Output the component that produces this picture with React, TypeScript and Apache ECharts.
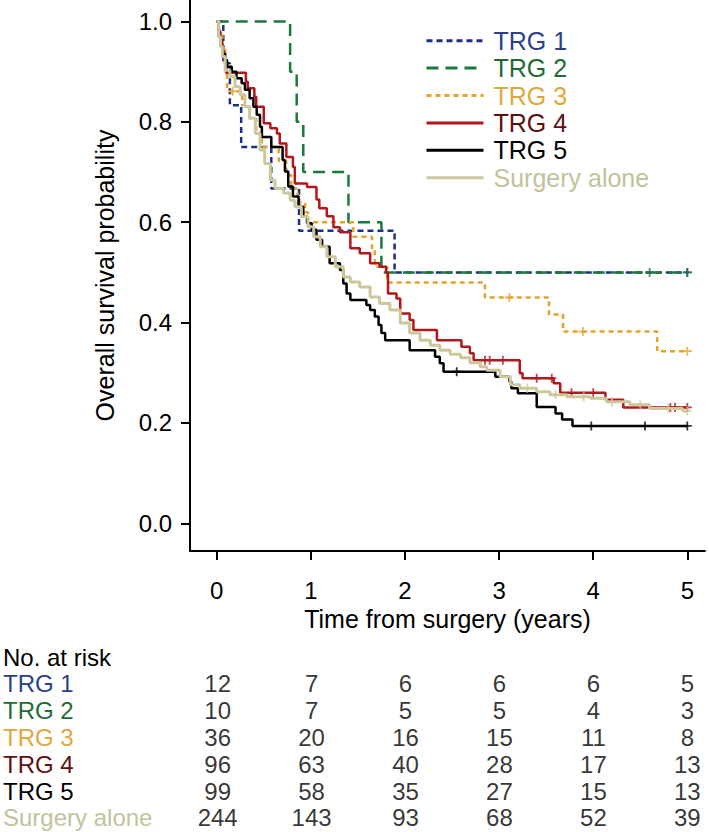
import React, { useEffect, useRef } from 'react';
import * as echarts from 'echarts';

const FONT = 'Liberation Sans, Arial, Helvetica, sans-serif';

const groups = ['TRG 1', 'TRG 2', 'TRG 3', 'TRG 4', 'TRG 5', 'Surgery alone'];
const lineColors = ['#1c2f86', '#1a7a3c', '#e2a52a', '#b3171b', '#000000', '#cdc79c'];
const textColors = ['#2b3f8c', '#1f6b35', '#e0a83a', '#5c1010', '#000000', '#c3c29a'];
const lineTypes: any[] = [[6, 4], [12, 7], [5, 4], 'solid', 'solid', 'solid'];
const lineWidths = [2.5, 2.5, 2.5, 2.5, 2.5, 3];

// Kaplan-Meier steps (time in years, survival probability)
const trg1Time = [0, 0.07, 0.14, 0.26, 0.58, 0.875, 1.89, 5];
const trg1Surv = [1, 0.917, 0.833, 0.75, 0.667, 0.583, 0.5, 0.5];

const trg2Time = [0, 0.78, 0.85, 0.92, 1.4, 1.75, 5];
const trg2Surv = [1, 0.9, 0.8, 0.7, 0.6, 0.5, 0.5];

const trg3Time = [0, 0.03, 0.06, 0.09, 0.11, 0.27, 0.35, 0.42, 0.48, 0.66, 0.74, 0.79, 0.86, 0.94, 0.97, 1.45, 1.65, 1.68, 1.81, 2.85, 3.53, 3.68, 4.68, 5];
const trg3Surv = [1, 0.972, 0.944, 0.917, 0.861, 0.833, 0.806, 0.778, 0.75, 0.722, 0.694, 0.667, 0.639, 0.62, 0.6, 0.571, 0.545, 0.511, 0.48, 0.45, 0.416, 0.382, 0.343, 0.343];

const trg4Time = [0, 0.02, 0.04, 0.06, 0.08, 0.1, 0.31, 0.33, 0.4, 0.42, 0.5, 0.57, 0.64, 0.67, 0.74, 0.81, 0.83, 0.96, 1.06, 1.09, 1.17, 1.24, 1.31, 1.42, 1.52, 1.63, 1.73, 1.8, 1.82, 1.91, 1.95, 2.05, 2.09, 2.34, 2.6, 2.69, 2.73, 3.22, 3.25, 3.58, 3.65, 4.13, 4.32, 5];
const trg4Surv = [1, 0.98, 0.96, 0.94, 0.92, 0.898, 0.88, 0.867, 0.85, 0.83, 0.797, 0.787, 0.777, 0.757, 0.73, 0.71, 0.677, 0.67, 0.645, 0.628, 0.612, 0.59, 0.58, 0.548, 0.538, 0.518, 0.511, 0.5, 0.458, 0.448, 0.418, 0.405, 0.385, 0.365, 0.352, 0.339, 0.325, 0.299, 0.289, 0.279, 0.26, 0.246, 0.231, 0.231];

const trg5Time = [0, 0.02, 0.04, 0.06, 0.09, 0.11, 0.16, 0.21, 0.265, 0.3, 0.35, 0.39, 0.425, 0.46, 0.48, 0.58, 0.7, 0.725, 0.76, 0.81, 0.87, 0.92, 0.96, 1.01, 1.06, 1.12, 1.2, 1.31, 1.345, 1.38, 1.42, 1.59, 1.63, 1.68, 1.72, 1.75, 1.79, 2.05, 2.32, 2.37, 2.41, 2.96, 3.11, 3.13, 3.2, 3.4, 3.6, 3.67, 3.78, 5];
const trg5Surv = [1, 0.97, 0.95, 0.935, 0.923, 0.91, 0.9, 0.887, 0.877, 0.864, 0.847, 0.83, 0.814, 0.79, 0.77, 0.75, 0.724, 0.701, 0.671, 0.651, 0.631, 0.611, 0.598, 0.585, 0.565, 0.551, 0.518, 0.505, 0.478, 0.458, 0.445, 0.435, 0.425, 0.412, 0.395, 0.379, 0.365, 0.345, 0.332, 0.319, 0.302, 0.292, 0.282, 0.269, 0.259, 0.232, 0.219, 0.207, 0.194, 0.194];

const surgTime = [0, 0.02, 0.04, 0.06, 0.09, 0.14, 0.195, 0.25, 0.3, 0.35, 0.41, 0.46, 0.51, 0.57, 0.62, 0.71, 0.78, 0.83, 0.9, 0.97, 1.03, 1.1, 1.17, 1.26, 1.345, 1.42, 1.52, 1.63, 1.73, 1.84, 1.95, 2.05, 2.16, 2.27, 2.37, 2.48, 2.59, 2.69, 2.8, 2.87, 3.01, 3.12, 3.22, 3.4, 3.54, 3.72, 3.97, 4.14, 4.39, 4.6, 4.95, 5];
const surgSurv = [1, 0.97, 0.95, 0.93, 0.903, 0.89, 0.87, 0.854, 0.83, 0.807, 0.777, 0.744, 0.717, 0.684, 0.667, 0.658, 0.644, 0.631, 0.611, 0.591, 0.571, 0.551, 0.531, 0.511, 0.491, 0.481, 0.471, 0.451, 0.438, 0.425, 0.399, 0.379, 0.365, 0.355, 0.345, 0.337, 0.33, 0.32, 0.312, 0.305, 0.292, 0.276, 0.269, 0.262, 0.256, 0.252, 0.249, 0.242, 0.236, 0.229, 0.224, 0.224];

// censoring marks
const trg1Cens = [[5, 0.5]];
const trg2Cens = [[4.6, 0.5], [5, 0.5]];
const trg3Cens = [[0.17, 0.861], [3.11, 0.45], [3.89, 0.382], [5, 0.343]];
const trg4Cens = [[2.85, 0.325], [2.9, 0.325], [3.04, 0.325], [3.4, 0.289], [3.56, 0.289], [3.77, 0.26], [4.0, 0.26], [4.82, 0.231], [4.87, 0.231], [5, 0.231]];
const trg5Cens = [[2.55, 0.302], [3.98, 0.194], [4.55, 0.194], [5, 0.194]];
const surgCens = [[3.3, 0.269], [3.6, 0.256], [3.9, 0.252], [4.2, 0.242], [4.5, 0.236], [4.8, 0.229], [5, 0.224]];

// number at risk
const riskTimes = [0, 1, 2, 3, 4, 5];
const riskTRG1 = [12, 7, 6, 6, 6, 5];
const riskTRG2 = [10, 7, 5, 5, 4, 3];
const riskTRG3 = [36, 20, 16, 15, 11, 8];
const riskTRG4 = [96, 63, 40, 28, 17, 13];
const riskTRG5 = [99, 58, 35, 27, 15, 13];
const riskSurg = [244, 143, 93, 68, 52, 39];

const xTicks = [0, 1, 2, 3, 4, 5];
const yTicks = [0, 0.2, 0.4, 0.6, 0.8, 1.0];
const riskTitle = 'No. at risk';

const PLUS = 'path://M4,0 L6,0 L6,4 L10,4 L10,6 L6,6 L6,10 L4,10 L4,6 L0,6 L0,4 L4,4 Z';

export default function App() {
  const ref = useRef<HTMLDivElement>(null);
  useEffect(() => {
    if (!ref.current) return;
    const chart = echarts.init(ref.current, undefined, { renderer: 'svg' });
    const times = [trg1Time, trg2Time, trg3Time, trg4Time, trg5Time, surgTime];
    const survs = [trg1Surv, trg2Surv, trg3Surv, trg4Surv, trg5Surv, surgSurv];
    const cens = [trg1Cens, trg2Cens, trg3Cens, trg4Cens, trg5Cens, surgCens];
    const risks = [riskTRG1, riskTRG2, riskTRG3, riskTRG4, riskTRG5, riskSurg];
    const rowNames = [riskTitle, ...groups];
    const rowColors = ['#000000', ...textColors];

    const series: any[] = [];
    groups.forEach((g, i) => {
      series.push({
        name: g,
        type: 'line',
        xAxisIndex: 0,
        yAxisIndex: 0,
        step: 'end',
        symbol: 'none',
        showSymbol: false,
        data: times[i].map((t, k) => [t, survs[i][k]]),
        lineStyle: { color: lineColors[i], width: lineWidths[i], type: lineTypes[i] },
        itemStyle: { color: lineColors[i] },
        z: 2 + i,
      });
    });
    groups.forEach((g, i) => {
      series.push({
        name: g + ' censored',
        type: 'scatter',
        xAxisIndex: 0,
        yAxisIndex: 0,
        symbol: PLUS,
        symbolSize: 9,
        data: cens[i],
        itemStyle: { color: lineColors[i] },
        z: 2 + i,
      });
    });
    groups.forEach((g, i) => {
      series.push({
        name: g + ' at risk',
        type: 'scatter',
        xAxisIndex: 1,
        yAxisIndex: 1,
        symbolSize: 1,
        itemStyle: { color: 'rgba(0,0,0,0)' },
        data: riskTimes.map((t, k) => [t, g, risks[i][k]]),
        label: {
          show: true,
          position: 'inside',
          formatter: (p: any) => String(p.data[2]),
          color: '#000',
          fontSize: 24,
          fontFamily: FONT,
        },
      });
    });

    const xMin = -0.2837;
    const xMax = 5.188;

    chart.setOption({
      animation: false,
      backgroundColor: '#ffffff',
      grid: [
        { left: 190, top: 0, width: 515, height: 551 },
        { left: 190, top: 643.6, width: 515, height: 187.6 },
      ],
      legend: {
        orient: 'vertical',
        left: 425,
        top: 27,
        padding: 0,
        itemWidth: 57,
        itemHeight: 14,
        itemGap: 0,
        selectedMode: false,
        itemStyle: { opacity: 0 },
        lineStyle: { width: 3 },
        data: groups.map((g, i) => ({ name: g, textStyle: { color: textColors[i] } })),
        textStyle: { fontSize: 25, lineHeight: 27.4, fontFamily: FONT, padding: [0, 0, 0, 5] },
      },
      xAxis: [
        {
          gridIndex: 0,
          type: 'value',
          min: xMin,
          max: xMax,
          axisLine: { show: true, onZero: false, lineStyle: { color: '#000', width: 2 } },
          axisTick: { show: true, inside: false, customValues: xTicks, length: 9, lineStyle: { color: '#000', width: 2 } },
          axisLabel: { customValues: xTicks, fontSize: 24, color: '#000', margin: 27, fontFamily: FONT },
          splitLine: { show: false },
          name: 'Time from surgery (years)',
          nameLocation: 'middle',
          nameGap: 48,
          nameTextStyle: { fontSize: 25, color: '#000', fontFamily: FONT },
        },
        { gridIndex: 1, type: 'value', min: xMin, max: xMax, show: false },
      ],
      yAxis: [
        {
          gridIndex: 0,
          type: 'value',
          min: -0.0552,
          max: 1.0428,
          axisLine: { show: true, onZero: false, lineStyle: { color: '#000', width: 2 } },
          axisTick: { show: true, inside: false, customValues: yTicks, length: 9, lineStyle: { color: '#000', width: 2 } },
          axisLabel: {
            customValues: yTicks,
            formatter: (v: number) => v.toFixed(1),
            fontSize: 24,
            color: '#000',
            margin: 18,
            fontFamily: FONT,
          },
          splitLine: { show: false },
          name: 'Overall survival probability',
          nameLocation: 'middle',
          nameGap: 73,
          nameRotate: 90,
          nameTextStyle: { fontSize: 25, color: '#000', fontFamily: FONT },
        },
        {
          gridIndex: 1,
          type: 'category',
          data: rowNames,
          inverse: true,
          axisLine: { show: false },
          axisTick: { show: false },
          splitLine: { show: false },
          axisLabel: {
            interval: 0,
            align: 'left',
            margin: 188,
            fontSize: 24,
            fontFamily: FONT,
            color: (_v: any, idx: number) => rowColors[idx],
          },
        },
      ],
      series,
    });
    return () => chart.dispose();
  }, []);
  return <div ref={ref} style={{ position: 'absolute', left: 0, top: 0, width: 709, height: 832 }} />;
}
